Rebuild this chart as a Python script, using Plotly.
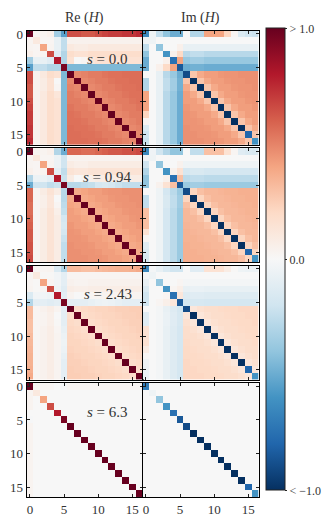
import plotly.graph_objects as go

W, H = 330, 517
idx = list(range(17))
tick_vals = [0, 5, 10, 15]
s_labels = ["0.0", "0.94", "2.43", "6.3"]
col_titles = ["Re (<i>H</i>)", "Im (<i>H</i>)"]
cbar_vals = [-1, 0, 1]
cbar_text = ["&lt; \u22121.0", "0.0", "&gt; 1.0"]

re_s0 = [
    [1.00, 0.03, 0.03, 0.05, -0.35, -0.55, 0.65, 0.65, 0.62, 0.62, 0.65, 0.68, 0.70, 0.70, 0.72, 0.72, 0.75],
    [0.03, 0.10, 0.02, 0.02, -0.08, -0.25, 0.04, 0.04, 0.04, 0.04, 0.04, 0.04, 0.04, 0.04, 0.04, 0.04, 0.04],
    [0.03, 0.02, 0.40, 0.03, -0.08, -0.25, 0.10, 0.08, 0.08, 0.10, 0.10, 0.10, 0.10, 0.10, 0.10, 0.10, 0.10],
    [0.05, 0.02, 0.03, 0.65, -0.12, -0.30, 0.18, 0.15, 0.15, 0.18, 0.18, 0.18, 0.18, 0.18, 0.18, 0.18, 0.18],
    [-0.35, -0.08, -0.08, -0.12, 0.80, -0.30, 0.15, 0.00, 0.02, 0.12, 0.15, 0.15, 0.15, 0.15, 0.15, 0.15, 0.15],
    [-0.55, -0.25, -0.25, -0.30, -0.30, 0.95, -0.45, -0.45, -0.45, -0.45, -0.45, -0.45, -0.45, -0.45, -0.45, -0.45, -0.45],
    [0.65, 0.04, 0.10, 0.18, 0.15, -0.45, 1.00, 0.48, 0.50, 0.52, 0.52, 0.54, 0.55, 0.55, 0.56, 0.56, 0.56],
    [0.65, 0.04, 0.08, 0.15, 0.00, -0.45, 0.48, 1.00, 0.48, 0.50, 0.52, 0.52, 0.54, 0.55, 0.55, 0.56, 0.56],
    [0.62, 0.04, 0.08, 0.15, 0.02, -0.45, 0.50, 0.48, 1.00, 0.48, 0.50, 0.52, 0.52, 0.54, 0.55, 0.55, 0.56],
    [0.62, 0.04, 0.10, 0.18, 0.12, -0.45, 0.52, 0.50, 0.48, 1.00, 0.48, 0.50, 0.52, 0.52, 0.54, 0.55, 0.55],
    [0.65, 0.04, 0.10, 0.18, 0.15, -0.45, 0.52, 0.52, 0.50, 0.48, 1.00, 0.48, 0.50, 0.52, 0.52, 0.54, 0.55],
    [0.68, 0.04, 0.10, 0.18, 0.15, -0.45, 0.54, 0.52, 0.52, 0.50, 0.48, 1.00, 0.48, 0.50, 0.52, 0.52, 0.54],
    [0.70, 0.04, 0.10, 0.18, 0.15, -0.45, 0.55, 0.54, 0.52, 0.52, 0.50, 0.48, 1.00, 0.48, 0.50, 0.52, 0.52],
    [0.70, 0.04, 0.10, 0.18, 0.15, -0.45, 0.55, 0.55, 0.54, 0.52, 0.52, 0.50, 0.48, 1.00, 0.48, 0.50, 0.52],
    [0.72, 0.04, 0.10, 0.18, 0.15, -0.45, 0.56, 0.55, 0.55, 0.54, 0.52, 0.52, 0.50, 0.48, 1.00, 0.48, 0.50],
    [0.72, 0.04, 0.10, 0.18, 0.15, -0.45, 0.56, 0.56, 0.55, 0.55, 0.54, 0.52, 0.52, 0.50, 0.48, 1.00, 0.48],
    [0.75, 0.04, 0.10, 0.18, 0.15, -0.45, 0.56, 0.56, 0.56, 0.55, 0.55, 0.54, 0.52, 0.52, 0.50, 0.48, 1.00],
]

re_s094 = [
    [1.00, 0.03, 0.03, 0.05, -0.30, -0.50, 0.58, 0.58, 0.56, 0.56, 0.58, 0.60, 0.62, 0.62, 0.64, 0.64, 0.66],
    [0.03, 0.10, 0.02, 0.02, -0.06, -0.20, 0.03, 0.03, 0.03, 0.03, 0.03, 0.03, 0.03, 0.03, 0.03, 0.03, 0.03],
    [0.03, 0.02, 0.40, 0.03, -0.06, -0.20, 0.08, 0.06, 0.06, 0.08, 0.08, 0.08, 0.08, 0.08, 0.08, 0.08, 0.08],
    [0.05, 0.02, 0.03, 0.65, -0.10, -0.25, 0.14, 0.12, 0.12, 0.14, 0.14, 0.14, 0.14, 0.14, 0.14, 0.14, 0.14],
    [-0.30, -0.06, -0.06, -0.10, 0.80, -0.22, 0.08, 0.00, 0.02, 0.06, 0.08, 0.08, 0.08, 0.08, 0.08, 0.08, 0.08],
    [-0.50, -0.20, -0.20, -0.25, -0.22, 0.95, -0.28, -0.28, -0.26, -0.24, -0.18, -0.16, -0.18, -0.22, -0.25, -0.25, -0.25],
    [0.58, 0.03, 0.08, 0.14, 0.08, -0.28, 1.00, 0.38, 0.40, 0.42, 0.42, 0.44, 0.45, 0.45, 0.46, 0.46, 0.46],
    [0.58, 0.03, 0.06, 0.12, 0.00, -0.28, 0.38, 1.00, 0.38, 0.40, 0.42, 0.42, 0.44, 0.45, 0.45, 0.46, 0.46],
    [0.56, 0.03, 0.06, 0.12, 0.02, -0.26, 0.40, 0.38, 1.00, 0.38, 0.40, 0.42, 0.42, 0.44, 0.45, 0.45, 0.46],
    [0.56, 0.03, 0.08, 0.14, 0.06, -0.24, 0.42, 0.40, 0.38, 1.00, 0.38, 0.40, 0.42, 0.42, 0.44, 0.45, 0.45],
    [0.58, 0.03, 0.08, 0.14, 0.08, -0.18, 0.42, 0.42, 0.40, 0.38, 1.00, 0.38, 0.40, 0.42, 0.42, 0.44, 0.45],
    [0.60, 0.03, 0.08, 0.14, 0.08, -0.16, 0.44, 0.42, 0.42, 0.40, 0.38, 1.00, 0.38, 0.40, 0.42, 0.42, 0.44],
    [0.62, 0.03, 0.08, 0.14, 0.08, -0.18, 0.45, 0.44, 0.42, 0.42, 0.40, 0.38, 1.00, 0.38, 0.40, 0.42, 0.42],
    [0.62, 0.03, 0.08, 0.14, 0.08, -0.22, 0.45, 0.45, 0.44, 0.42, 0.42, 0.40, 0.38, 1.00, 0.38, 0.40, 0.42],
    [0.64, 0.03, 0.08, 0.14, 0.08, -0.25, 0.46, 0.45, 0.45, 0.44, 0.42, 0.42, 0.40, 0.38, 1.00, 0.38, 0.40],
    [0.64, 0.03, 0.08, 0.14, 0.08, -0.25, 0.46, 0.46, 0.45, 0.45, 0.44, 0.42, 0.42, 0.40, 0.38, 1.00, 0.38],
    [0.66, 0.03, 0.08, 0.14, 0.08, -0.25, 0.46, 0.46, 0.46, 0.45, 0.45, 0.44, 0.42, 0.42, 0.40, 0.38, 1.00],
]

re_s243 = [
    [1.00, 0.02, 0.02, 0.03, -0.15, -0.30, 0.32, 0.32, 0.30, 0.30, 0.32, 0.33, 0.34, 0.35, 0.35, 0.36, 0.38],
    [0.02, 0.10, 0.01, 0.01, -0.03, -0.10, 0.02, 0.02, 0.02, 0.02, 0.02, 0.02, 0.02, 0.02, 0.02, 0.02, 0.02],
    [0.02, 0.01, 0.40, 0.02, -0.03, -0.10, 0.04, 0.03, 0.03, 0.04, 0.04, 0.04, 0.04, 0.04, 0.04, 0.04, 0.04],
    [0.03, 0.01, 0.02, 0.65, -0.05, -0.12, 0.07, 0.06, 0.06, 0.07, 0.07, 0.07, 0.07, 0.07, 0.07, 0.07, 0.07],
    [-0.15, -0.03, -0.03, -0.05, 0.80, -0.10, 0.03, 0.00, 0.01, 0.02, 0.03, 0.03, 0.03, 0.03, 0.03, 0.03, 0.03],
    [-0.30, -0.10, -0.10, -0.12, -0.10, 0.95, -0.10, -0.10, -0.10, -0.08, -0.06, -0.05, -0.06, -0.08, -0.10, -0.10, -0.10],
    [0.32, 0.02, 0.04, 0.07, 0.03, -0.10, 1.00, 0.18, 0.20, 0.21, 0.22, 0.22, 0.23, 0.24, 0.24, 0.25, 0.25],
    [0.32, 0.02, 0.03, 0.06, 0.00, -0.10, 0.18, 1.00, 0.18, 0.20, 0.21, 0.22, 0.22, 0.23, 0.24, 0.24, 0.25],
    [0.30, 0.02, 0.03, 0.06, 0.01, -0.10, 0.20, 0.18, 1.00, 0.18, 0.20, 0.21, 0.22, 0.22, 0.23, 0.24, 0.24],
    [0.30, 0.02, 0.04, 0.07, 0.02, -0.08, 0.21, 0.20, 0.18, 1.00, 0.18, 0.20, 0.21, 0.22, 0.22, 0.23, 0.24],
    [0.32, 0.02, 0.04, 0.07, 0.03, -0.06, 0.22, 0.21, 0.20, 0.18, 1.00, 0.18, 0.20, 0.21, 0.22, 0.22, 0.23],
    [0.33, 0.02, 0.04, 0.07, 0.03, -0.05, 0.22, 0.22, 0.21, 0.20, 0.18, 1.00, 0.18, 0.20, 0.21, 0.22, 0.22],
    [0.34, 0.02, 0.04, 0.07, 0.03, -0.06, 0.23, 0.22, 0.22, 0.21, 0.20, 0.18, 1.00, 0.18, 0.20, 0.21, 0.22],
    [0.35, 0.02, 0.04, 0.07, 0.03, -0.08, 0.24, 0.23, 0.22, 0.22, 0.21, 0.20, 0.18, 1.00, 0.18, 0.20, 0.21],
    [0.35, 0.02, 0.04, 0.07, 0.03, -0.10, 0.24, 0.24, 0.23, 0.22, 0.22, 0.21, 0.20, 0.18, 1.00, 0.18, 0.20],
    [0.36, 0.02, 0.04, 0.07, 0.03, -0.10, 0.25, 0.24, 0.24, 0.23, 0.22, 0.22, 0.21, 0.20, 0.18, 1.00, 0.18],
    [0.38, 0.02, 0.04, 0.07, 0.03, -0.10, 0.25, 0.25, 0.24, 0.24, 0.23, 0.22, 0.22, 0.21, 0.20, 0.18, 1.00],
]

re_s63 = [
    [1.00, 0.02, 0.02, 0.02, 0.00, -0.01, 0.02, 0.02, 0.02, 0.02, 0.02, 0.02, 0.02, 0.02, 0.02, 0.02, 0.02],
    [0.03, 0.10, 0.00, 0.00, 0.00, 0.00, 0.00, 0.00, 0.00, 0.00, 0.00, 0.00, 0.00, 0.00, 0.00, 0.00, 0.00],
    [0.03, 0.00, 0.40, 0.00, 0.00, 0.00, 0.00, 0.00, 0.00, 0.00, 0.00, 0.00, 0.00, 0.00, 0.00, 0.00, 0.00],
    [0.03, 0.00, 0.00, 0.65, 0.00, 0.00, 0.00, 0.00, 0.00, 0.00, 0.00, 0.00, 0.00, 0.00, 0.00, 0.00, 0.00],
    [0.00, 0.00, 0.00, 0.00, 0.80, 0.00, 0.00, 0.00, 0.00, 0.00, 0.00, 0.00, 0.00, 0.00, 0.00, 0.00, 0.00],
    [-0.01, 0.00, 0.00, 0.00, 0.00, 0.95, 0.00, 0.00, 0.00, 0.00, 0.00, 0.00, 0.00, 0.00, 0.00, 0.00, 0.00],
    [0.03, 0.00, 0.00, 0.00, 0.00, 0.00, 1.00, 0.00, 0.00, 0.00, 0.00, 0.00, 0.00, 0.00, 0.00, 0.00, 0.00],
    [0.03, 0.00, 0.00, 0.00, 0.00, 0.00, 0.00, 1.00, 0.00, 0.00, 0.00, 0.00, 0.00, 0.00, 0.00, 0.00, 0.00],
    [0.03, 0.00, 0.00, 0.00, 0.00, 0.00, 0.00, 0.00, 1.00, 0.00, 0.00, 0.00, 0.00, 0.00, 0.00, 0.00, 0.00],
    [0.03, 0.00, 0.00, 0.00, 0.00, 0.00, 0.00, 0.00, 0.00, 1.00, 0.00, 0.00, 0.00, 0.00, 0.00, 0.00, 0.00],
    [0.03, 0.00, 0.00, 0.00, 0.00, 0.00, 0.00, 0.00, 0.00, 0.00, 1.00, 0.00, 0.00, 0.00, 0.00, 0.00, 0.00],
    [0.03, 0.00, 0.00, 0.00, 0.00, 0.00, 0.00, 0.00, 0.00, 0.00, 0.00, 1.00, 0.00, 0.00, 0.00, 0.00, 0.00],
    [0.03, 0.00, 0.00, 0.00, 0.00, 0.00, 0.00, 0.00, 0.00, 0.00, 0.00, 0.00, 1.00, 0.00, 0.00, 0.00, 0.00],
    [0.03, 0.00, 0.00, 0.00, 0.00, 0.00, 0.00, 0.00, 0.00, 0.00, 0.00, 0.00, 0.00, 1.00, 0.00, 0.00, 0.00],
    [0.03, 0.00, 0.00, 0.00, 0.00, 0.00, 0.00, 0.00, 0.00, 0.00, 0.00, 0.00, 0.00, 0.00, 1.00, 0.00, 0.00],
    [0.03, 0.00, 0.00, 0.00, 0.00, 0.00, 0.00, 0.00, 0.00, 0.00, 0.00, 0.00, 0.00, 0.00, 0.00, 1.00, 0.00],
    [0.03, 0.00, 0.00, 0.00, 0.00, 0.00, 0.00, 0.00, 0.00, 0.00, 0.00, 0.00, 0.00, 0.00, 0.00, 0.00, 1.00],
]

im_s0 = [
    [-0.65, -0.05, -0.25, -0.40, -0.50, -0.50, 0.00, -0.30, -0.30, 0.40, 0.40, 0.40, 0.22, 0.02, -0.15, -0.20, -0.22],
    [-0.05, -0.05, 0.00, 0.00, 0.00, 0.00, 0.00, 0.00, 0.00, 0.00, 0.00, 0.00, 0.00, 0.00, 0.00, 0.00, 0.00],
    [-0.25, 0.00, -0.40, 0.00, 0.00, 0.05, -0.08, -0.08, -0.08, -0.08, -0.08, -0.08, -0.08, -0.08, -0.08, -0.08, -0.08],
    [-0.40, 0.00, 0.00, -0.60, 0.05, 0.20, -0.28, -0.25, -0.25, -0.28, -0.28, -0.28, -0.28, -0.28, -0.28, -0.28, -0.28],
    [-0.50, 0.00, 0.00, 0.05, -0.75, 0.40, -0.38, -0.35, -0.35, -0.38, -0.38, -0.38, -0.38, -0.38, -0.38, -0.38, -0.38],
    [-0.50, 0.00, 0.05, 0.20, 0.40, -0.85, -0.50, -0.48, -0.48, -0.50, -0.50, -0.50, -0.50, -0.50, -0.50, -0.50, -0.50],
    [0.00, 0.00, -0.08, -0.28, -0.38, -0.50, -0.90, 0.28, 0.38, 0.42, 0.42, 0.44, 0.45, 0.45, 0.46, 0.46, 0.46],
    [-0.30, 0.00, -0.08, -0.25, -0.35, -0.48, 0.28, -1.00, 0.28, 0.38, 0.42, 0.42, 0.44, 0.45, 0.45, 0.46, 0.46],
    [-0.30, 0.00, -0.08, -0.25, -0.35, -0.48, 0.38, 0.28, -1.00, 0.28, 0.38, 0.42, 0.42, 0.44, 0.45, 0.45, 0.46],
    [0.40, 0.00, -0.08, -0.28, -0.38, -0.50, 0.42, 0.38, 0.28, -1.00, 0.28, 0.38, 0.42, 0.42, 0.44, 0.45, 0.45],
    [0.40, 0.00, -0.08, -0.28, -0.38, -0.50, 0.42, 0.42, 0.38, 0.28, -1.00, 0.28, 0.38, 0.42, 0.42, 0.44, 0.45],
    [0.40, 0.00, -0.08, -0.28, -0.38, -0.50, 0.44, 0.42, 0.42, 0.38, 0.28, -1.00, 0.28, 0.38, 0.42, 0.42, 0.44],
    [0.22, 0.00, -0.08, -0.28, -0.38, -0.50, 0.45, 0.44, 0.42, 0.42, 0.38, 0.28, -1.00, 0.28, 0.38, 0.42, 0.42],
    [0.02, 0.00, -0.08, -0.28, -0.38, -0.50, 0.45, 0.45, 0.44, 0.42, 0.42, 0.38, 0.28, -1.00, 0.28, 0.38, 0.42],
    [-0.15, 0.00, -0.08, -0.28, -0.38, -0.50, 0.46, 0.45, 0.45, 0.44, 0.42, 0.42, 0.38, 0.28, -1.00, 0.28, 0.38],
    [-0.20, 0.00, -0.08, -0.28, -0.38, -0.50, 0.46, 0.46, 0.45, 0.45, 0.44, 0.42, 0.42, 0.38, 0.28, -0.80, 0.28],
    [-0.22, 0.00, -0.08, -0.28, -0.38, -0.50, 0.46, 0.46, 0.46, 0.45, 0.45, 0.44, 0.42, 0.42, 0.38, 0.28, -0.60],
]

im_s094 = [
    [-0.65, -0.04, -0.20, -0.30, -0.40, -0.40, 0.00, -0.25, -0.25, 0.30, 0.30, 0.30, 0.15, 0.02, -0.12, -0.15, -0.16],
    [-0.04, -0.05, 0.00, 0.00, 0.00, 0.00, 0.00, 0.00, 0.00, 0.00, 0.00, 0.00, 0.00, 0.00, 0.00, 0.00, 0.00],
    [-0.20, 0.00, -0.40, 0.00, 0.00, 0.04, -0.05, -0.05, -0.05, -0.05, -0.05, -0.05, -0.05, -0.05, -0.05, -0.05, -0.05],
    [-0.30, 0.00, 0.00, -0.60, 0.04, 0.15, -0.18, -0.16, -0.16, -0.18, -0.18, -0.18, -0.18, -0.18, -0.18, -0.18, -0.18],
    [-0.40, 0.00, 0.00, 0.04, -0.75, 0.30, -0.27, -0.25, -0.25, -0.27, -0.27, -0.27, -0.27, -0.27, -0.27, -0.27, -0.27],
    [-0.40, 0.00, 0.04, 0.15, 0.30, -0.85, -0.37, -0.35, -0.35, -0.37, -0.37, -0.37, -0.37, -0.37, -0.37, -0.37, -0.37],
    [0.00, 0.00, -0.05, -0.18, -0.27, -0.37, -0.90, 0.22, 0.30, 0.33, 0.33, 0.34, 0.35, 0.35, 0.36, 0.36, 0.36],
    [-0.25, 0.00, -0.05, -0.16, -0.25, -0.35, 0.22, -1.00, 0.22, 0.30, 0.33, 0.33, 0.34, 0.35, 0.35, 0.36, 0.36],
    [-0.25, 0.00, -0.05, -0.16, -0.25, -0.35, 0.30, 0.22, -1.00, 0.22, 0.30, 0.33, 0.33, 0.34, 0.35, 0.35, 0.36],
    [0.30, 0.00, -0.05, -0.18, -0.27, -0.37, 0.33, 0.30, 0.22, -1.00, 0.22, 0.30, 0.33, 0.33, 0.34, 0.35, 0.35],
    [0.30, 0.00, -0.05, -0.18, -0.27, -0.37, 0.33, 0.33, 0.30, 0.22, -1.00, 0.22, 0.30, 0.33, 0.33, 0.34, 0.35],
    [0.30, 0.00, -0.05, -0.18, -0.27, -0.37, 0.34, 0.33, 0.33, 0.30, 0.22, -1.00, 0.22, 0.30, 0.33, 0.33, 0.34],
    [0.15, 0.00, -0.05, -0.18, -0.27, -0.37, 0.35, 0.34, 0.33, 0.33, 0.30, 0.22, -1.00, 0.22, 0.30, 0.33, 0.33],
    [0.02, 0.00, -0.05, -0.18, -0.27, -0.37, 0.35, 0.35, 0.34, 0.33, 0.33, 0.30, 0.22, -1.00, 0.22, 0.30, 0.33],
    [-0.12, 0.00, -0.05, -0.18, -0.27, -0.37, 0.36, 0.35, 0.35, 0.34, 0.33, 0.33, 0.30, 0.22, -1.00, 0.22, 0.30],
    [-0.15, 0.00, -0.05, -0.18, -0.27, -0.37, 0.36, 0.36, 0.35, 0.35, 0.34, 0.33, 0.33, 0.30, 0.22, -0.80, 0.22],
    [-0.16, 0.00, -0.05, -0.18, -0.27, -0.37, 0.36, 0.36, 0.36, 0.35, 0.35, 0.34, 0.33, 0.33, 0.30, 0.22, -0.60],
]

im_s243 = [
    [-0.65, -0.02, -0.08, -0.15, -0.20, -0.20, 0.00, -0.12, -0.12, 0.15, 0.15, 0.15, 0.08, 0.01, -0.05, -0.06, -0.06],
    [-0.02, -0.05, 0.00, 0.00, 0.00, 0.00, 0.00, 0.00, 0.00, 0.00, 0.00, 0.00, 0.00, 0.00, 0.00, 0.00, 0.00],
    [-0.08, 0.00, -0.40, 0.00, 0.00, 0.02, -0.02, -0.02, -0.02, -0.02, -0.02, -0.02, -0.02, -0.02, -0.02, -0.02, -0.02],
    [-0.15, 0.00, 0.00, -0.60, 0.02, 0.06, -0.08, -0.07, -0.07, -0.08, -0.08, -0.08, -0.08, -0.08, -0.08, -0.08, -0.08],
    [-0.20, 0.00, 0.00, 0.02, -0.75, 0.12, -0.13, -0.12, -0.12, -0.13, -0.13, -0.13, -0.13, -0.13, -0.13, -0.13, -0.13],
    [-0.20, 0.00, 0.02, 0.06, 0.12, -0.85, -0.18, -0.17, -0.17, -0.18, -0.18, -0.18, -0.18, -0.18, -0.18, -0.18, -0.18],
    [0.00, 0.00, -0.02, -0.08, -0.13, -0.18, -0.90, 0.12, 0.16, 0.18, 0.18, 0.19, 0.20, 0.20, 0.21, 0.21, 0.21],
    [-0.12, 0.00, -0.02, -0.07, -0.12, -0.17, 0.12, -1.00, 0.12, 0.16, 0.18, 0.18, 0.19, 0.20, 0.20, 0.21, 0.21],
    [-0.12, 0.00, -0.02, -0.07, -0.12, -0.17, 0.16, 0.12, -1.00, 0.12, 0.16, 0.18, 0.18, 0.19, 0.20, 0.20, 0.21],
    [0.15, 0.00, -0.02, -0.08, -0.13, -0.18, 0.18, 0.16, 0.12, -1.00, 0.12, 0.16, 0.18, 0.18, 0.19, 0.20, 0.20],
    [0.15, 0.00, -0.02, -0.08, -0.13, -0.18, 0.18, 0.18, 0.16, 0.12, -1.00, 0.12, 0.16, 0.18, 0.18, 0.19, 0.20],
    [0.15, 0.00, -0.02, -0.08, -0.13, -0.18, 0.19, 0.18, 0.18, 0.16, 0.12, -1.00, 0.12, 0.16, 0.18, 0.18, 0.19],
    [0.08, 0.00, -0.02, -0.08, -0.13, -0.18, 0.20, 0.19, 0.18, 0.18, 0.16, 0.12, -1.00, 0.12, 0.16, 0.18, 0.18],
    [0.01, 0.00, -0.02, -0.08, -0.13, -0.18, 0.20, 0.20, 0.19, 0.18, 0.18, 0.16, 0.12, -1.00, 0.12, 0.16, 0.18],
    [-0.05, 0.00, -0.02, -0.08, -0.13, -0.18, 0.21, 0.20, 0.20, 0.19, 0.18, 0.18, 0.16, 0.12, -1.00, 0.12, 0.16],
    [-0.06, 0.00, -0.02, -0.08, -0.13, -0.18, 0.21, 0.21, 0.20, 0.20, 0.19, 0.18, 0.18, 0.16, 0.12, -0.80, 0.12],
    [-0.06, 0.00, -0.02, -0.08, -0.13, -0.18, 0.21, 0.21, 0.21, 0.20, 0.20, 0.19, 0.18, 0.18, 0.16, 0.12, -0.60],
]

im_s63 = [
    [-0.70, 0.00, 0.00, 0.00, 0.00, 0.00, 0.00, 0.00, 0.00, 0.00, 0.00, 0.00, 0.00, 0.00, 0.00, 0.00, 0.00],
    [0.00, -0.05, 0.00, 0.00, 0.00, 0.00, 0.00, 0.00, 0.00, 0.00, 0.00, 0.00, 0.00, 0.00, 0.00, 0.00, 0.00],
    [0.00, 0.00, -0.40, 0.00, 0.00, 0.00, 0.00, 0.00, 0.00, 0.00, 0.00, 0.00, 0.00, 0.00, 0.00, 0.00, 0.00],
    [0.00, 0.00, 0.00, -0.60, 0.00, 0.00, 0.00, 0.00, 0.00, 0.00, 0.00, 0.00, 0.00, 0.00, 0.00, 0.00, 0.00],
    [0.00, 0.00, 0.00, 0.00, -0.75, 0.00, 0.00, 0.00, 0.00, 0.00, 0.00, 0.00, 0.00, 0.00, 0.00, 0.00, 0.00],
    [0.00, 0.00, 0.00, 0.00, 0.00, -0.85, 0.00, 0.00, 0.00, 0.00, 0.00, 0.00, 0.00, 0.00, 0.00, 0.00, 0.00],
    [0.00, 0.00, 0.00, 0.00, 0.00, 0.00, -0.90, 0.00, 0.00, 0.00, 0.00, 0.00, 0.00, 0.00, 0.00, 0.00, 0.00],
    [0.00, 0.00, 0.00, 0.00, 0.00, 0.00, 0.00, -1.00, 0.00, 0.00, 0.00, 0.00, 0.00, 0.00, 0.00, 0.00, 0.00],
    [0.00, 0.00, 0.00, 0.00, 0.00, 0.00, 0.00, 0.00, -1.00, 0.00, 0.00, 0.00, 0.00, 0.00, 0.00, 0.00, 0.00],
    [0.00, 0.00, 0.00, 0.00, 0.00, 0.00, 0.00, 0.00, 0.00, -1.00, 0.00, 0.00, 0.00, 0.00, 0.00, 0.00, 0.00],
    [0.00, 0.00, 0.00, 0.00, 0.00, 0.00, 0.00, 0.00, 0.00, 0.00, -1.00, 0.00, 0.00, 0.00, 0.00, 0.00, 0.00],
    [0.00, 0.00, 0.00, 0.00, 0.00, 0.00, 0.00, 0.00, 0.00, 0.00, 0.00, -1.00, 0.00, 0.00, 0.00, 0.00, 0.00],
    [0.00, 0.00, 0.00, 0.00, 0.00, 0.00, 0.00, 0.00, 0.00, 0.00, 0.00, 0.00, -1.00, 0.00, 0.00, 0.00, 0.00],
    [0.00, 0.00, 0.00, 0.00, 0.00, 0.00, 0.00, 0.00, 0.00, 0.00, 0.00, 0.00, 0.00, -1.00, 0.00, 0.00, 0.00],
    [0.00, 0.00, 0.00, 0.00, 0.00, 0.00, 0.00, 0.00, 0.00, 0.00, 0.00, 0.00, 0.00, 0.00, -1.00, 0.00, 0.00],
    [0.00, 0.00, 0.00, 0.00, 0.00, 0.00, 0.00, 0.00, 0.00, 0.00, 0.00, 0.00, 0.00, 0.00, 0.00, -0.80, 0.00],
    [0.00, 0.00, 0.00, 0.00, 0.00, 0.00, 0.00, 0.00, 0.00, 0.00, 0.00, 0.00, 0.00, 0.00, 0.00, 0.00, -0.60],
]

re_list = [re_s0, re_s094, re_s243, re_s63]
im_list = [im_s0, im_s094, im_s243, im_s63]
for m in re_list + im_list:
    assert len(m) == 17 and all(len(r) == 17 for r in m)

rdbu_r = [
    [0.0, "rgb(5,48,97)"], [0.1, "rgb(33,102,172)"], [0.2, "rgb(67,147,195)"],
    [0.3, "rgb(146,197,222)"], [0.4, "rgb(209,229,240)"], [0.5, "rgb(247,247,247)"],
    [0.6, "rgb(253,219,199)"], [0.7, "rgb(244,165,130)"], [0.8, "rgb(214,96,77)"],
    [0.9, "rgb(178,24,43)"], [1.0, "rgb(103,0,31)"],
]

FONT = "Liberation Serif"
TXT = "#333333"

fig = go.Figure()
layout = {}
col_x = [(26.5, 142.5), (142.5, 258.5)]
for r in range(4):
    top = 27.2 + 120 * r
    bot = top + 116.8
    for c in range(2):
        k = r * 2 + c + 1
        z = re_list[r] if c == 0 else im_list[r]
        fig.add_trace(go.Heatmap(z=z, x=idx, y=idx, coloraxis="coloraxis",
                                 xaxis=f"x{k}", yaxis=f"y{k}", hoverongaps=False))
        axcommon = dict(showgrid=False, zeroline=False, showline=True, linecolor="black",
                        linewidth=1, mirror="ticks", ticks="inside", ticklen=3,
                        tickcolor="#222", tickvals=tick_vals,
                        tickfont=dict(family=FONT, size=13, color=TXT))
        layout[f"xaxis{k}"] = dict(axcommon, domain=[col_x[c][0] / W, col_x[c][1] / W],
                                   anchor=f"y{k}", range=[-0.5, 16.5],
                                   showticklabels=(r == 3))
        layout[f"yaxis{k}"] = dict(axcommon, domain=[1 - bot / H, 1 - top / H],
                                   anchor=f"x{k}", range=[16.5, -0.5],
                                   showticklabels=(c == 0))

annotations = []
for c, t in enumerate(col_titles):
    annotations.append(dict(text=t, x=(col_x[c][0] + col_x[c][1]) / 2 / W, y=1 - 14 / H,
                            xref="paper", yref="paper", xanchor="center", yanchor="middle",
                            showarrow=False, font=dict(family=FONT, size=14, color=TXT)))
for r, s in enumerate(s_labels):
    annotations.append(dict(text=f"<i>s</i> = {s}", x=107.5 / W, y=1 - (56.5 + 120 * r) / H,
                            xref="paper", yref="paper", xanchor="center", yanchor="middle",
                            showarrow=False, font=dict(family=FONT, size=15, color=TXT)))

fig.update_layout(
    width=W, height=H, margin=dict(l=0, r=0, t=0, b=0),
    paper_bgcolor="white", plot_bgcolor="white", showlegend=False,
    annotations=annotations,
    coloraxis=dict(cmin=-1, cmax=1, colorscale=rdbu_r,
                   colorbar=dict(x=266 / W, xanchor="left", y=1 - 261 / H, yanchor="middle",
                                 len=472 / H, lenmode="fraction", thickness=19,
                                 thicknessmode="pixels", xpad=0, ypad=0,
                                 tickvals=cbar_vals, ticktext=cbar_text,
                                 ticks="outside", ticklen=2, tickcolor="#222",
                                 outlinewidth=1, outlinecolor="#222",
                                 tickfont=dict(family=FONT, size=12, color=TXT))),
    **layout,
)

fig.write_html("out.html")
